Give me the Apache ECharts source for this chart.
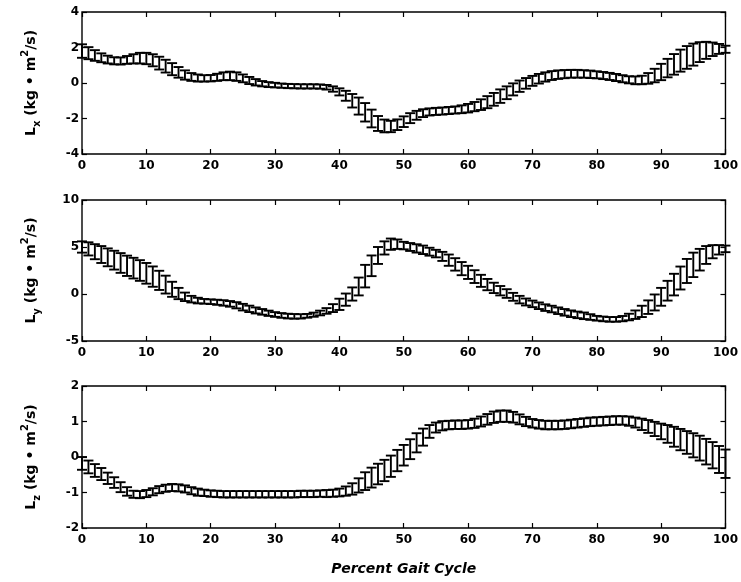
<!DOCTYPE html>
<html>
<head>
<meta charset="utf-8">
<script src="https://cdn.jsdelivr.net/npm/echarts@6/dist/echarts.min.js"></script>
<style>
  html, body { margin: 0; padding: 0; background: #fff; }
  #chart { width: 741px; height: 582px; }
</style>
</head>
<body>
<div id="chart"></div>
<script>
// Percent of the gait cycle at which each sample was taken
const percent = [
  0, 1, 2, 3, 4, 5, 6, 7, 8, 9,
  10, 11, 12, 13, 14, 15, 16, 17, 18, 19,
  20, 21, 22, 23, 24, 25, 26, 27, 28, 29,
  30, 31, 32, 33, 34, 35, 36, 37, 38, 39,
  40, 41, 42, 43, 44, 45, 46, 47, 48, 49,
  50, 51, 52, 53, 54, 55, 56, 57, 58, 59,
  60, 61, 62, 63, 64, 65, 66, 67, 68, 69,
  70, 71, 72, 73, 74, 75, 76, 77, 78, 79,
  80, 81, 82, 83, 84, 85, 86, 87, 88, 89,
  90, 91, 92, 93, 94, 95, 96, 97, 98, 99,
  100
];

// Angular momentum about x (kg·m²/s): mean and standard deviation
const lxMean = [
  1.80, 1.68, 1.55, 1.42, 1.32, 1.25, 1.24, 1.30, 1.36, 1.40,
  1.38, 1.28, 1.12, 0.95, 0.78, 0.60, 0.45, 0.34, 0.28, 0.26,
  0.27, 0.32, 0.38, 0.40, 0.36, 0.26, 0.14, 0.04, -0.04, -0.09,
  -0.12, -0.15, -0.17, -0.18, -0.19, -0.19, -0.19, -0.20, -0.24, -0.34,
  -0.50, -0.72, -1.00, -1.30, -1.65, -2.00, -2.28, -2.42, -2.45, -2.35,
  -2.18, -1.98, -1.82, -1.70, -1.63, -1.60, -1.58, -1.55, -1.52, -1.48,
  -1.42, -1.33, -1.22, -1.08, -0.92, -0.74, -0.55, -0.36, -0.18, -0.02,
  0.12, 0.24, 0.34, 0.42, 0.47, 0.50, 0.52, 0.52, 0.51, 0.49,
  0.46, 0.42, 0.37, 0.31, 0.24, 0.18, 0.15, 0.17, 0.26, 0.42,
  0.62, 0.84, 1.05, 1.26, 1.44, 1.60, 1.74, 1.84, 1.90, 1.92,
  1.90
];
const lxSd = [
  0.38, 0.34, 0.30, 0.25, 0.22, 0.20, 0.20, 0.22, 0.26, 0.30,
  0.32, 0.34, 0.36, 0.36, 0.34, 0.30, 0.26, 0.22, 0.20, 0.18,
  0.18, 0.20, 0.22, 0.24, 0.24, 0.22, 0.20, 0.18, 0.15, 0.14,
  0.13, 0.12, 0.12, 0.12, 0.12, 0.12, 0.12, 0.12, 0.13, 0.15,
  0.20, 0.28, 0.38, 0.48, 0.52, 0.50, 0.42, 0.36, 0.32, 0.30,
  0.30, 0.28, 0.25, 0.22, 0.20, 0.20, 0.20, 0.20, 0.20, 0.22,
  0.24, 0.26, 0.30, 0.34, 0.36, 0.38, 0.36, 0.34, 0.32, 0.30,
  0.28, 0.27, 0.26, 0.25, 0.24, 0.23, 0.22, 0.22, 0.21, 0.21,
  0.20, 0.20, 0.20, 0.20, 0.20, 0.20, 0.22, 0.24, 0.30, 0.38,
  0.46, 0.52, 0.58, 0.62, 0.64, 0.62, 0.56, 0.48, 0.38, 0.28,
  0.20
];

// Angular momentum about y (kg·m²/s)
const lyMean = [
  5.00, 4.80, 4.50, 4.20, 3.90, 3.60, 3.30, 3.00, 2.75, 2.50,
  2.20, 1.85, 1.45, 1.00, 0.50, 0.05, -0.30, -0.55, -0.70, -0.78,
  -0.82, -0.88, -0.95, -1.05, -1.20, -1.40, -1.58, -1.75, -1.90, -2.05,
  -2.18, -2.28, -2.35, -2.38, -2.38, -2.32, -2.20, -2.02, -1.80, -1.50,
  -1.10, -0.60, 0.00, 0.80, 1.90, 3.00, 4.10, 4.90, 5.30, 5.30,
  5.15, 5.00, 4.85, 4.70, 4.50, 4.30, 4.00, 3.60, 3.15, 2.70,
  2.30, 1.85, 1.40, 1.00, 0.65, 0.35, 0.05, -0.30, -0.60, -0.85,
  -1.05, -1.25, -1.45, -1.60, -1.78, -1.95, -2.10, -2.22, -2.32, -2.45,
  -2.58, -2.65, -2.70, -2.70, -2.62, -2.45, -2.20, -1.85, -1.40, -0.90,
  -0.30, 0.35, 1.00, 1.70, 2.45, 3.10, 3.65, 4.15, 4.50, 4.70,
  4.80
];
const lySd = [
  0.60, 0.70, 0.80, 0.90, 0.95, 1.00, 1.05, 1.08, 1.10, 1.10,
  1.10, 1.08, 1.02, 0.95, 0.80, 0.60, 0.45, 0.35, 0.30, 0.25,
  0.25, 0.27, 0.29, 0.30, 0.33, 0.35, 0.34, 0.32, 0.30, 0.28,
  0.25, 0.25, 0.25, 0.25, 0.23, 0.20, 0.22, 0.25, 0.30, 0.42,
  0.60, 0.65, 0.70, 0.95, 1.20, 1.10, 0.90, 0.70, 0.60, 0.50,
  0.40, 0.42, 0.44, 0.45, 0.42, 0.40, 0.48, 0.60, 0.66, 0.70,
  0.70, 0.68, 0.64, 0.60, 0.55, 0.50, 0.46, 0.42, 0.40, 0.37,
  0.35, 0.35, 0.35, 0.35, 0.35, 0.35, 0.35, 0.35, 0.35, 0.30,
  0.25, 0.25, 0.25, 0.25, 0.28, 0.35, 0.45, 0.60, 0.72, 0.85,
  0.95, 1.05, 1.15, 1.22, 1.28, 1.30, 1.15, 0.95, 0.70, 0.50,
  0.35
];

// Angular momentum about z (kg·m²/s)
const lzMean = [
  -0.18, -0.28, -0.38, -0.48, -0.60, -0.72, -0.85, -0.97, -1.05, -1.06,
  -1.03, -0.98, -0.92, -0.88, -0.86, -0.87, -0.90, -0.95, -0.99, -1.01,
  -1.03, -1.04, -1.05, -1.05, -1.05, -1.05, -1.05, -1.05, -1.05, -1.05,
  -1.05, -1.05, -1.05, -1.05, -1.04, -1.04, -1.04, -1.03, -1.03, -1.02,
  -1.00, -0.96, -0.90, -0.80, -0.68, -0.58, -0.48, -0.38, -0.26, -0.10,
  0.05, 0.22, 0.40, 0.56, 0.72, 0.83, 0.88, 0.90, 0.91, 0.91,
  0.92, 0.95, 1.00, 1.06, 1.12, 1.15, 1.15, 1.12, 1.06, 1.00,
  0.95, 0.92, 0.90, 0.90, 0.90, 0.91, 0.93, 0.95, 0.97, 0.99,
  1.00, 1.01, 1.02, 1.03, 1.03, 1.01, 0.97, 0.92, 0.86, 0.79,
  0.72, 0.65, 0.57, 0.49, 0.41, 0.33, 0.25, 0.15, 0.05, -0.07,
  -0.19
];
const lzSd = [
  0.18, 0.18, 0.18, 0.17, 0.16, 0.15, 0.14, 0.12, 0.10, 0.10,
  0.10, 0.10, 0.10, 0.10, 0.10, 0.10, 0.10, 0.10, 0.10, 0.09,
  0.09, 0.09, 0.09, 0.09, 0.09, 0.09, 0.09, 0.09, 0.09, 0.09,
  0.09, 0.09, 0.09, 0.09, 0.09, 0.09, 0.09, 0.09, 0.10, 0.10,
  0.11, 0.13, 0.16, 0.20, 0.25, 0.28, 0.29, 0.30, 0.30, 0.30,
  0.29, 0.28, 0.27, 0.24, 0.18, 0.14, 0.13, 0.12, 0.12, 0.12,
  0.12, 0.13, 0.14, 0.15, 0.16, 0.16, 0.16, 0.15, 0.14, 0.13,
  0.12, 0.12, 0.12, 0.12, 0.12, 0.12, 0.12, 0.12, 0.12, 0.12,
  0.12, 0.12, 0.12, 0.12, 0.12, 0.13, 0.14, 0.16, 0.18, 0.20,
  0.22, 0.25, 0.28, 0.30, 0.32, 0.34, 0.35, 0.36, 0.37, 0.38,
  0.40
];

// Axis tick values
const xTicks = [0, 10, 20, 30, 40, 50, 60, 70, 80, 90, 100];
const lxTicks = [-4, -2, 0, 2, 4];
const lyTicks = [-5, 0, 5, 10];
const lzTicks = [-2, -1, 0, 1, 2];

const axisLabels = ['x', 'y', 'z'];
const xTitle = 'Percent Gait Cycle';

const FONT = '"DejaVu Sans", "Liberation Sans", Arial, sans-serif';
const INK = '#000';

const panels = [
  { top: 12,  height: 142, ticks: lxTicks, mean: lxMean, sd: lxSd, sub: axisLabels[0] },
  { top: 200, height: 141, ticks: lyTicks, mean: lyMean, sd: lySd, sub: axisLabels[1] },
  { top: 386, height: 142, ticks: lzTicks, mean: lzMean, sd: lzSd, sub: axisLabels[2] }
];

const grid = [], xAxis = [], yAxis = [], series = [];

const tickStyle = { show: true, inside: true, length: 5, lineStyle: { color: INK, width: 1.2 } };
const hiddenLine = { show: false, onZero: false };

// Vertical error bar with horizontal caps at mean ± sd
function renderErrorBar(params, api) {
  const x = api.value(0), m = api.value(1), s = api.value(2);
  const hi = api.coord([x, m + s]);
  const lo = api.coord([x, m - s]);
  const w = 5;
  const style = { stroke: INK, lineWidth: 1.9 };
  return {
    type: 'group',
    children: [
      { type: 'line', shape: { x1: hi[0], y1: hi[1], x2: lo[0], y2: lo[1] }, style },
      { type: 'line', shape: { x1: hi[0] - w, y1: hi[1], x2: hi[0] + w, y2: hi[1] }, style },
      { type: 'line', shape: { x1: lo[0] - w, y1: lo[1], x2: lo[0] + w, y2: lo[1] }, style }
    ]
  };
}

panels.forEach((p, i) => {
  const yMin = p.ticks[0], yMax = p.ticks[p.ticks.length - 1];
  const yStep = p.ticks[1] - p.ticks[0];
  grid.push({
    left: 82, width: 647, top: p.top, height: p.height,
    show: true, borderColor: INK, borderWidth: 1.4, backgroundColor: '#fff'
  });
  const xBase = {
    gridIndex: i, type: 'value',
    min: xTicks[0], max: xTicks[xTicks.length - 1], interval: xTicks[1] - xTicks[0],
    axisLine: hiddenLine, axisTick: tickStyle, splitLine: { show: false }
  };
  xAxis.push(Object.assign({}, xBase, {
    position: 'bottom',
    axisLabel: { show: true, color: INK, fontFamily: FONT, fontWeight: 'bold', fontSize: 12, margin: 6 },
    name: i === panels.length - 1 ? xTitle : '',
    nameLocation: 'middle', nameGap: 34,
    nameTextStyle: { color: INK, fontFamily: FONT, fontWeight: 'bold', fontStyle: 'italic', fontSize: 14 }
  }));
  xAxis.push(Object.assign({}, xBase, { position: 'top', axisLabel: { show: false } }));

  const yBase = {
    gridIndex: i, type: 'value', min: yMin, max: yMax, interval: yStep,
    axisLine: hiddenLine, axisTick: tickStyle, splitLine: { show: false }
  };
  yAxis.push(Object.assign({}, yBase, {
    position: 'left',
    axisLabel: { show: true, color: INK, fontFamily: FONT, fontWeight: 'bold', fontSize: 12, margin: 3 },
    name: '{b|L}{s|' + p.sub + '}{b| (kg \u2022 m}{p|2}{b|/s)}',
    nameLocation: 'middle', nameRotate: 90, nameGap: 40,
    nameTextStyle: {
      color: INK, fontFamily: FONT, fontWeight: 'bold', fontSize: 14,
      rich: {
        b: { fontFamily: FONT, fontWeight: 'bold', fontSize: 14, color: INK, lineHeight: 22 },
        s: { fontFamily: FONT, fontWeight: 'bold', fontSize: 10, color: INK, lineHeight: 10, verticalAlign: 'bottom' },
        p: { fontFamily: FONT, fontWeight: 'bold', fontSize: 10, color: INK, lineHeight: 10, verticalAlign: 'top' }
      }
    }
  }));
  yAxis.push(Object.assign({}, yBase, { position: 'right', axisLabel: { show: false } }));

  series.push({
    type: 'custom',
    xAxisIndex: 2 * i, yAxisIndex: 2 * i,
    renderItem: renderErrorBar,
    encode: { x: 0, y: [1] },
    data: percent.map((x, k) => [x, p.mean[k], p.sd[k]]),
    clip: false,
    silent: true,
    animation: false
  });
});

const chart = echarts.init(document.getElementById('chart'), null, { renderer: 'canvas' });
chart.setOption({
  backgroundColor: '#fff',
  animation: false,
  grid, xAxis, yAxis, series
});
</script>
</body>
</html>
